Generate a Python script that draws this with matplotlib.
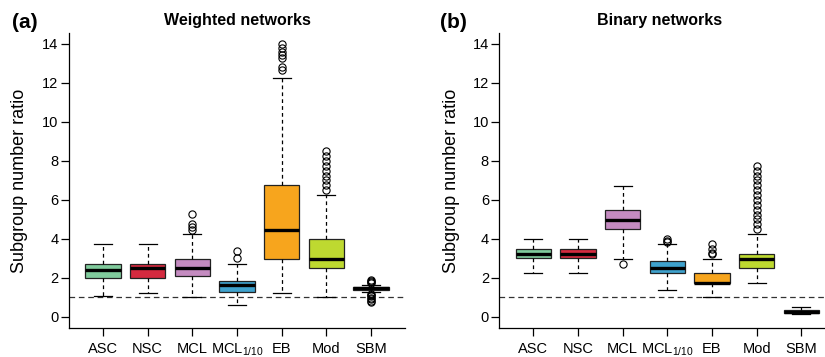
import numpy as np
import matplotlib
matplotlib.use("Agg")
import matplotlib.pyplot as plt

plt.rcParams['font.family'] = ['Liberation Sans', 'DejaVu Sans']
plt.rcParams['mathtext.fontset'] = 'custom'
plt.rcParams['mathtext.rm'] = 'Liberation Sans'
plt.rcParams['mathtext.it'] = 'Liberation Sans:italic'
plt.rcParams['mathtext.bf'] = 'Liberation Sans:bold'

methods = ['ASC', 'NSC', 'MCL', r'MCL$_{\mathregular{1/10}}$', 'EB', 'Mod', 'SBM']
colors = ['#80CB9C', '#D42A3F', '#C48BC0', '#3FA2CD', '#F7A51D', '#BED930', '#B5524A']

# weighted networks: lower whisker, q1, median, q3, upper whisker
w_lo = [1.09, 1.25, 1.01, 0.62, 1.25, 1.01, 1.27]
w_q1 = [1.98, 1.98, 2.12, 1.26, 2.99, 2.50, 1.38]
w_med = [2.39, 2.51, 2.51, 1.62, 4.48, 2.99, 1.47]
w_q3 = [2.74, 2.74, 2.99, 1.86, 6.75, 3.98, 1.56]
w_hi = [3.74, 3.74, 4.24, 2.74, 12.24, 6.26, 1.66]
w_fliers = [
    [],
    [],
    [4.48, 4.6, 4.78, 5.26],
    [3.0, 3.38],
    [12.67, 12.84, 13.27, 13.44, 13.6, 13.8, 13.98],
    [6.5, 6.75, 7.0, 7.25, 7.5, 7.75, 8.0, 8.25, 8.5],
    [0.75, 0.82, 0.9, 0.98, 1.05, 1.12, 1.2, 1.72, 1.78, 1.85, 1.9],
]

# binary networks
b_lo = [2.24, 2.24, 2.99, 1.38, 1.0, 1.74, 0.15]
b_q1 = [3.01, 3.01, 4.50, 2.24, 1.74, 2.50, 0.21]
b_med = [3.23, 3.23, 4.99, 2.51, 1.76, 2.99, 0.28]
b_q3 = [3.49, 3.49, 5.49, 2.87, 2.24, 3.23, 0.38]
b_hi = [4.0, 4.0, 6.74, 3.74, 2.99, 4.24, 0.51]
b_fliers = [
    [],
    [],
    [2.73],
    [3.85, 3.92, 4.0],
    [3.25, 3.3, 3.5, 3.75],
    [4.5, 4.75, 5.0, 5.25, 5.5, 5.75, 6.0, 6.25, 6.5, 6.75, 7.0, 7.25, 7.5, 7.75],
    [],
]

W, H = 825, 357
fig = plt.figure(figsize=(W / 100, H / 100), dpi=100)


def panel(x0, lo, q1, med, q3, hi, fl):
    ax = fig.add_axes([x0 / W, 1 - 327.7 / H, 336 / W, (327.7 - 33) / H])
    stats = []
    for i in range(len(methods)):
        stats.append(dict(whislo=lo[i], q1=q1[i], med=med[i], q3=q3[i],
                          whishi=hi[i], fliers=fl[i]))
    bp = ax.bxp(stats, positions=np.arange(1, 8), widths=0.79, capwidths=0.4,
                patch_artist=True,
                boxprops=dict(edgecolor='#222222', linewidth=0.9),
                medianprops=dict(color='black', linewidth=2.4),
                whiskerprops=dict(color='black', linewidth=0.9, linestyle=(0, (3, 2.5))),
                capprops=dict(color='black', linewidth=0.9),
                flierprops=dict(marker='o', markerfacecolor='none',
                                markeredgecolor='black', markersize=5.2,
                                markeredgewidth=0.8))
    for b, c in zip(bp['boxes'], colors):
        b.set_facecolor(c)
    ax.axhline(1, color='#333333', linewidth=0.9, linestyle=(0, (4.5, 3)), zorder=0.5)
    ax.set_xlim(0.24, 7.76)
    ax.set_ylim(-0.55, 14.56)
    ax.set_yticks(np.arange(0, 15, 2))
    ax.set_xticks(np.arange(1, 8))
    ax.set_xticklabels(methods)
    ax.spines['top'].set_visible(False)
    ax.spines['right'].set_visible(False)
    ax.spines['left'].set_linewidth(0.9)
    ax.spines['bottom'].set_linewidth(0.9)
    ax.tick_params(axis='y', length=5.5, width=0.9, labelsize=10.5, pad=2)
    ax.tick_params(axis='x', length=6, width=0.9, labelsize=10.5, pad=4)
    return ax


panel(69, w_lo, w_q1, w_med, w_q3, w_hi, w_fliers)
panel(499.3, b_lo, b_q1, b_med, b_q3, b_hi, b_fliers)

fig.text(237 / W, 1 - 21 / H, 'Weighted networks', ha='center', va='center',
         fontsize=11.5, fontweight='bold')
fig.text(660 / W, 1 - 21 / H, 'Binary networks', ha='center', va='center',
         fontsize=11.5, fontweight='bold')
fig.text(12 / W, 1 - 23 / H, '(a)', ha='left', va='center', fontsize=15,
         fontweight='bold')
fig.text(440 / W, 1 - 23 / H, '(b)', ha='left', va='center', fontsize=15,
         fontweight='bold')
fig.text(20 / W, 1 - 181 / H, 'Subgroup number ratio', rotation=90,
         ha='center', va='center', fontsize=13)
fig.text(451 / W, 1 - 181 / H, 'Subgroup number ratio', rotation=90,
         ha='center', va='center', fontsize=13)

fig.savefig('out.png', dpi=100)
